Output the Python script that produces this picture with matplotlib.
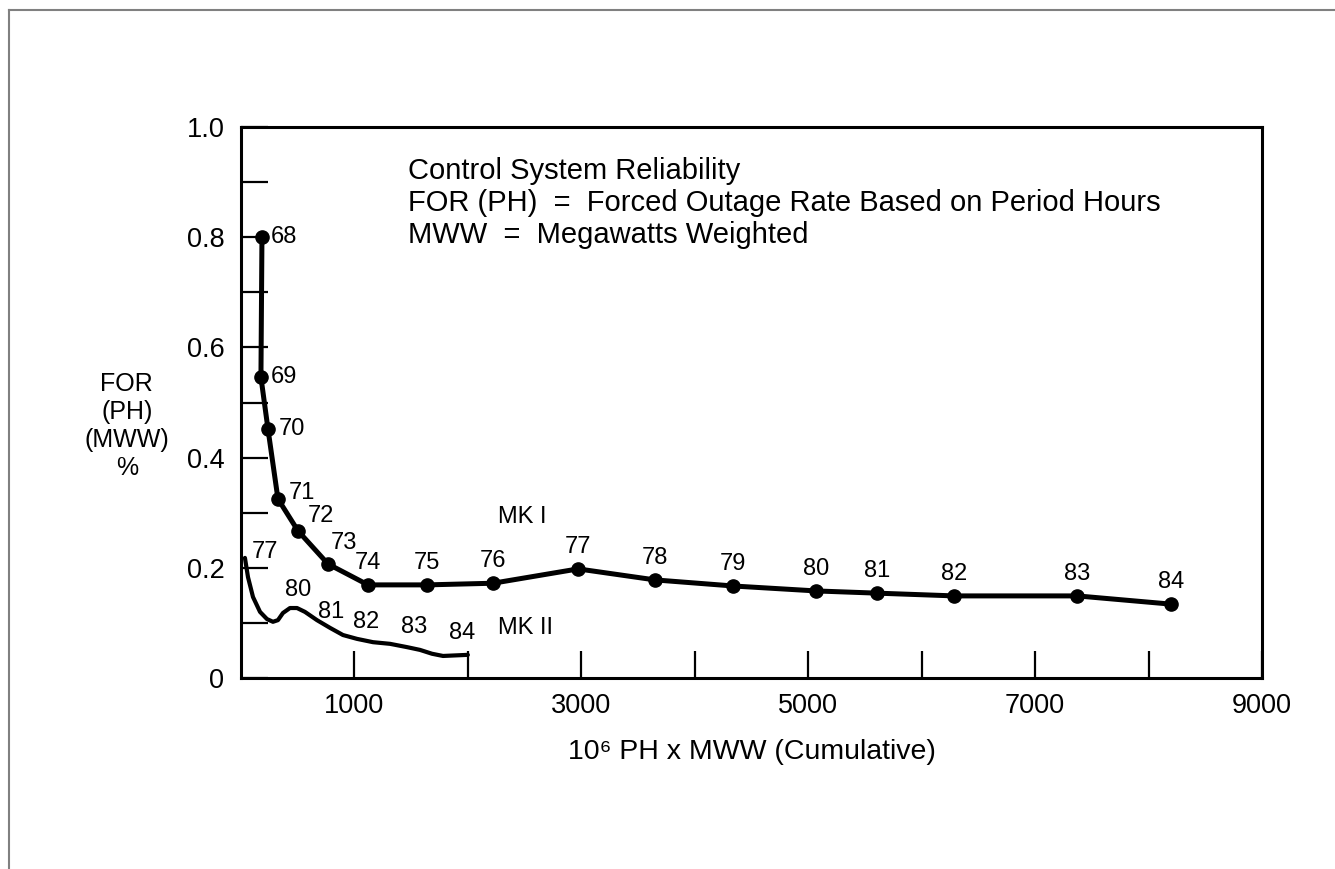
import matplotlib
matplotlib.use("Agg")
from matplotlib import pyplot as plt
from matplotlib.lines import Line2D

plt.rcParams['font.family'] = ['Liberation Sans', 'DejaVu Sans']

# MK I yearly points (cumulative 10^6 PH x MWW, FOR %)
mk1_years = ["68", "69", "70", "71", "72", "73", "74", "75", "76",
             "77", "78", "79", "80", "81", "82", "83", "84"]
mk1_x = [185, 176, 238, 326, 503, 767, 1120, 1640, 2222,
         2972, 3651, 4339, 5071, 5608, 6287, 7372, 8201]
mk1_y = [0.800, 0.546, 0.452, 0.325, 0.267, 0.207, 0.169, 0.169, 0.172,
         0.198, 0.178, 0.167, 0.158, 0.154, 0.149, 0.149, 0.134]

# MK II curve
mk2_x = [35, 62, 106, 168, 229, 282, 326, 370, 432, 494, 564, 670, 785, 899,
         1023, 1164, 1314, 1464, 1578, 1684, 1781, 2000]
mk2_y = [0.218, 0.183, 0.147, 0.120, 0.107, 0.102, 0.105, 0.118, 0.127, 0.127,
         0.120, 0.105, 0.091, 0.078, 0.071, 0.065, 0.062, 0.056, 0.051, 0.044,
         0.040, 0.042]
mk2_years = ["77", "80", "81", "82", "83", "84"]
mk2_lab_x = [215, 503, 794, 1102, 1526, 1949]
mk2_lab_y = [0.229, 0.160, 0.120, 0.102, 0.093, 0.082]

xticks = [1000, 2000, 3000, 4000, 5000, 6000, 7000, 8000, 9000]
xticklabels = ["1000", "", "3000", "", "5000", "", "7000", "", "9000"]
yticks = [0, 0.1, 0.2, 0.3, 0.4, 0.5, 0.6, 0.7, 0.8, 0.9, 1.0]
yticklabels = ["0", "", "0.2", "", "0.4", "", "0.6", "", "0.8", "", "1.0"]

notes = ["Control System Reliability",
         "FOR (PH)  =  Forced Outage Rate Based on Period Hours",
         "MWW  =  Megawatts Weighted"]

fig = plt.figure(figsize=(13.35, 8.69), dpi=100)
ax = fig.add_axes([0.1805, 0.2198, 0.7648, 0.634])

ax.plot(mk1_x, mk1_y, color="black", lw=3.6, marker="o", ms=9.5, solid_joinstyle="round")
ax.plot(mk2_x, mk2_y, color="black", lw=3.0, solid_joinstyle="round", solid_capstyle="round")

# label offsets in points (first ones to the right, rest above)
offs = [(6, 0), (7, 0), (8, 0), (8, 4), (7, 11), (2, 15)] + [(0, 16)] * 11
for i in range(len(mk1_years)):
    dx, dy = offs[i]
    ha = "left" if dx > 0 else "center"
    ax.annotate(mk1_years[i], (mk1_x[i], mk1_y[i]), xytext=(dx, dy),
                textcoords="offset points", ha=ha, va="center", fontsize=17)

for i in range(len(mk2_years)):
    ax.text(mk2_lab_x[i], mk2_lab_y[i], mk2_years[i], fontsize=17, ha="center", va="center")

ax.text(2270, 0.292, "MK I", fontsize=17, ha="left", va="center")
ax.text(2270, 0.091, "MK II", fontsize=17, ha="left", va="center")

for i, s in enumerate(notes):
    ax.text(1473, 0.920 - i * 0.058, s, fontsize=21, ha="left", va="center")

ax.set_xlim(0, 9000)
ax.set_ylim(0, 1.0)
ax.set_xticks(xticks)
ax.set_xticklabels(xticklabels)
ax.set_yticks(yticks)
ax.set_yticklabels(yticklabels)
ax.tick_params(direction="in", length=19.5, width=1.6, labelsize=19.5)
ax.tick_params(axis="x", pad=11)
ax.tick_params(axis="y", pad=12)
for sp in ax.spines.values():
    sp.set_linewidth(2.2)

ax.set_xlabel("10⁶ PH x MWW (Cumulative)", fontsize=20.5, labelpad=14)
fig.text(0.095, 0.51, "FOR\n(PH)\n(MWW)\n%", fontsize=18, ha="center", va="center",
         linespacing=1.2)

# page border (top and left)
fig.add_artist(Line2D([0.0068, 1.0], [0.9885, 0.9885], color="gray", lw=1.5))
fig.add_artist(Line2D([0.0068, 0.0068], [0.0, 0.9885], color="gray", lw=1.5))

plt.savefig("out.png", dpi=100)
